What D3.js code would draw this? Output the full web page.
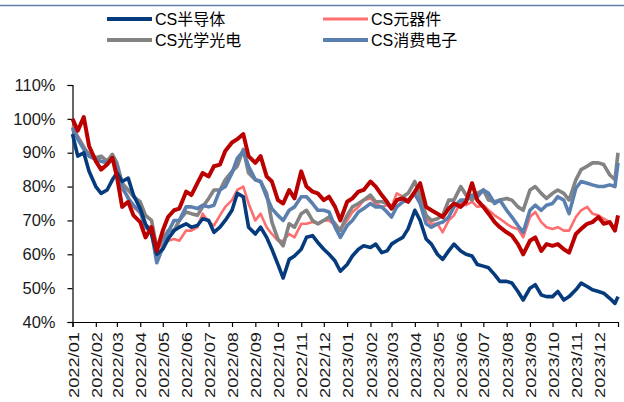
<!DOCTYPE html>
<html>
<head>
<meta charset="utf-8">
<script src="https://cdn.jsdelivr.net/npm/d3@7"></script>
<style>
body{margin:0;background:#fff;}
svg text{font-family:"Liberation Sans",Arial,"Noto Sans CJK SC",sans-serif;fill:#1a1a1a;}
</style>
</head>
<body>
<svg id="chart" width="624" height="402"></svg>
<script>
// 주간 포인트 (각 월 1, 8, 16, 23일) + 마지막 거래일
var dayMarks = [1, 8, 16, 23];
var lastDay = "2023-12-27";
var yTicks = [40, 50, 60, 70, 80, 90, 100, 110];

var names = ["CS半导体", "CS元器件", "CS光学光电", "CS消费电子", "CS电子"];
var colors = ["#053b7c", "#ff6e6e", "#838383", "#5b80b0", "#bb0000"];

var semi = [95.5, 89, 90, 84.5, 80, 78, 79, 82, 84, 81.5, 82.5, 77.5, 73.5, 69, 66, 60,
	61.5, 64.5, 67, 68, 69, 68, 68.5, 70.5, 70, 66.5, 68, 70, 73, 78, 77, 68,
	66, 68, 65, 61.5, 57, 53, 58.5, 59.5, 61.5, 65, 65.5, 63.5, 61.5, 60, 58, 55,
	57, 59.5, 61.5, 62.5, 62, 63, 60.5, 61, 63, 64, 65, 67.5, 73, 70, 64.5, 63,
	60, 58.5, 61, 63, 61, 60, 59.5, 57, 56.5, 56, 54, 52, 52, 51.5, 49, 46.5,
	50, 51, 48, 47.5, 47.5, 49, 46.5, 47.5, 49.5, 51.5, 50.5, 49.5, 49, 48.5, 47, 45.5,
	47.5];
var comp = [98, 95, 92, 89, 88, 87.5, 87, 88.5, 85.5, 79, 77, 74, 72, 68.5, 68, 61.5,
	63, 64, 64.5, 64, 67, 67, 68, 72, 69.5, 68.5, 71.5, 74, 76, 79, 80, 75,
	70, 72, 68, 66, 64, 64, 66, 65, 69, 69, 69.5, 69, 70, 70, 68.5, 67.5,
	70, 72.5, 74, 76, 76.5, 75, 74, 74.5, 74, 78, 77, 76, 77.5, 75, 70.5, 69,
	69, 66.5, 70, 71.5, 75.5, 74.5, 75.5, 74, 74.5, 73, 71.5, 70.5, 69, 68, 67.5, 65,
	71, 72.5, 69.5, 68, 67.5, 68, 67, 67, 71, 73, 74, 72, 71.5, 70.5, 69.5, 67,
	70];
var optic = [97, 94.5, 91.5, 89.5, 88.5, 89, 87.5, 89.5, 87, 81, 79, 77, 75.5, 71.5, 70, 62,
	64.5, 67, 67, 70, 72.5, 72, 71.5, 74, 76.5, 79, 79, 82, 84.5, 86, 91, 84,
	82, 81.5, 78, 69.5, 64.5, 62.5, 69, 68, 72, 73, 70, 69, 70, 71, 69, 67,
	71.5, 74, 75, 76, 77.5, 75.5, 75.5, 75, 73.5, 76, 77, 78, 81.5, 77, 71.5, 70,
	70.5, 71.5, 76, 76, 80, 77.5, 76, 78, 79, 76, 75.5, 76, 76.5, 76, 74, 73,
	79, 80, 78, 76.5, 78, 79, 78, 76, 82, 85, 86, 87, 87, 86.5, 83.5, 82,
	90];
var consumer = [97.5, 94, 91, 89, 88, 87.5, 87, 88.5, 86, 80, 76.5, 74.5, 72.5, 68, 66.5, 57.5,
	62, 66.5, 70, 70, 74, 74, 73.5, 74.5, 74, 74.5, 79, 80, 84, 88.3, 90.5, 86,
	82, 81.5, 77, 73.5, 71.5, 70, 73, 74, 77, 77, 75, 73, 73, 72.5, 68, 65,
	68.5, 70, 72.5, 73.5, 75, 74, 74, 72.5, 71, 74, 75.5, 76, 78, 75, 69, 68,
	69, 69.5, 71, 74, 76, 76, 77.5, 77, 79, 78, 75, 76, 73, 71, 68.5, 66.5,
	73, 74.5, 73, 74.5, 75, 77, 76, 72, 79.5, 81.5, 81, 80.5, 80, 80, 80.5, 80,
	87];
var elec = [100, 96.5, 100.5, 92, 87.5, 85, 86.5, 88.5, 83, 74, 75.5, 71.5, 69.5, 65, 68, 61,
	67, 71, 73, 73.5, 78.5, 77.5, 81, 84, 83, 86, 86.5, 90.5, 93, 94, 95.5, 89,
	87, 89, 83, 81.5, 76, 75, 79, 76.5, 84.5, 80, 78.5, 78, 76, 77, 74, 70,
	75.5, 76.5, 78.5, 79, 81.5, 80, 77.5, 75.5, 73.5, 76, 76.5, 75.5, 78.5, 81, 74, 73,
	72, 71, 73.5, 75, 74, 75.5, 81, 76, 74, 72, 69.5, 68, 66.5, 65.5, 63, 60,
	64, 65, 61, 63, 62.5, 63, 61.5, 60.5, 66, 67.5, 69, 69.5, 71, 69, 69.5, 67,
	71.5];

var dates = [];
for (var mo = 0; mo < 24; mo++) {
	dayMarks.forEach(function(d){ dates.push(new Date(2022, mo, d)); });
}
dates.push(d3.timeParse("%Y-%m-%d")(lastDay));

var svg = d3.select("#chart");
svg.append("rect").attr("width", 624).attr("height", 402).attr("fill", "#fff");

// 상단 구분선
svg.append("line")
	.attr("x1", 0).attr("x2", 624).attr("y1", 5.5).attr("y2", 5.5)
	.attr("stroke", "#5f7eaa").attr("stroke-width", 1.6);

var x0 = 72.5, x1 = 618, yTop = 85, yBot = 322;

var xScale = d3.scaleTime()
	.domain([new Date(2022, 0, 1), dates[dates.length - 1]])
	.range([x0, x1]);

var yScale = d3.scaleLinear()
	.domain([40, 110])
	.range([yBot, yTop]);

var months = d3.timeMonth.range(new Date(2022, 0, 1), new Date(2024, 0, 1));

var xAxis = svg.append("g")
	.attr("transform", "translate(0," + yBot + ")")
	.call(d3.axisBottom(xScale).tickValues(months).tickFormat(d3.timeFormat("%Y/%m")).tickSizeOuter(0).tickSize(5));
xAxis.select(".domain").attr("stroke", "#000").attr("stroke-width", 1.2);
xAxis.selectAll(".tick line").attr("stroke", "#000").attr("stroke-width", 1.2);
xAxis.selectAll("text")
	.attr("transform", "rotate(-90)")
	.attr("x", -10).attr("y", 0).attr("dy", "0.4em")
	.style("text-anchor", "end")
	.style("font-size", "14px")
	.attr("textLength", 66)
	.attr("lengthAdjust", "spacingAndGlyphs");

var yAxis = svg.append("g")
	.attr("transform", "translate(" + x0 + ",0)")
	.call(d3.axisLeft(yScale).tickValues(yTicks).tickFormat(function(d){ return d + "%"; }).tickSizeOuter(0).tickSize(5).tickPadding(12));
yAxis.select(".domain").attr("stroke", "#000").attr("stroke-width", 1.2);
yAxis.selectAll(".tick line").attr("stroke", "#000").attr("stroke-width", 1.2);
yAxis.selectAll("text").style("font-size", "16.5px");

var line = d3.line()
	.x(function(d, i){ return xScale(dates[i]); })
	.y(function(d){ return yScale(d); });

var allSeries = [semi, comp, optic, consumer, elec];
var widths = [3.6, 2.6, 3.6, 3.6, 4];
var drawOrder = [1, 2, 3, 0, 4];

drawOrder.forEach(function(k){
	svg.append("path")
		.attr("d", line(allSeries[k]))
		.attr("fill", "none")
		.attr("stroke", colors[k])
		.attr("stroke-width", widths[k])
		.attr("stroke-linejoin", "round");
});

// 범례 (CS电子 항목은 원본에서 잘려 보이지 않음)
var legendPos = [[107, 19], [323, 19], [107, 40], [323, 40]];
legendPos.forEach(function(p, i){
	var g = svg.append("g").attr("transform", "translate(" + p[0] + "," + p[1] + ")");
	g.append("line").attr("x1", 0).attr("x2", 45).attr("y1", 0).attr("y2", 0)
		.attr("stroke", colors[i]).attr("stroke-width", i == 1 ? 3 : 4);
	g.append("text").attr("x", 48).attr("y", 6).style("font-size", "16px").style("fill", "#000").text(names[i]);
});
</script>
</body>
</html>
